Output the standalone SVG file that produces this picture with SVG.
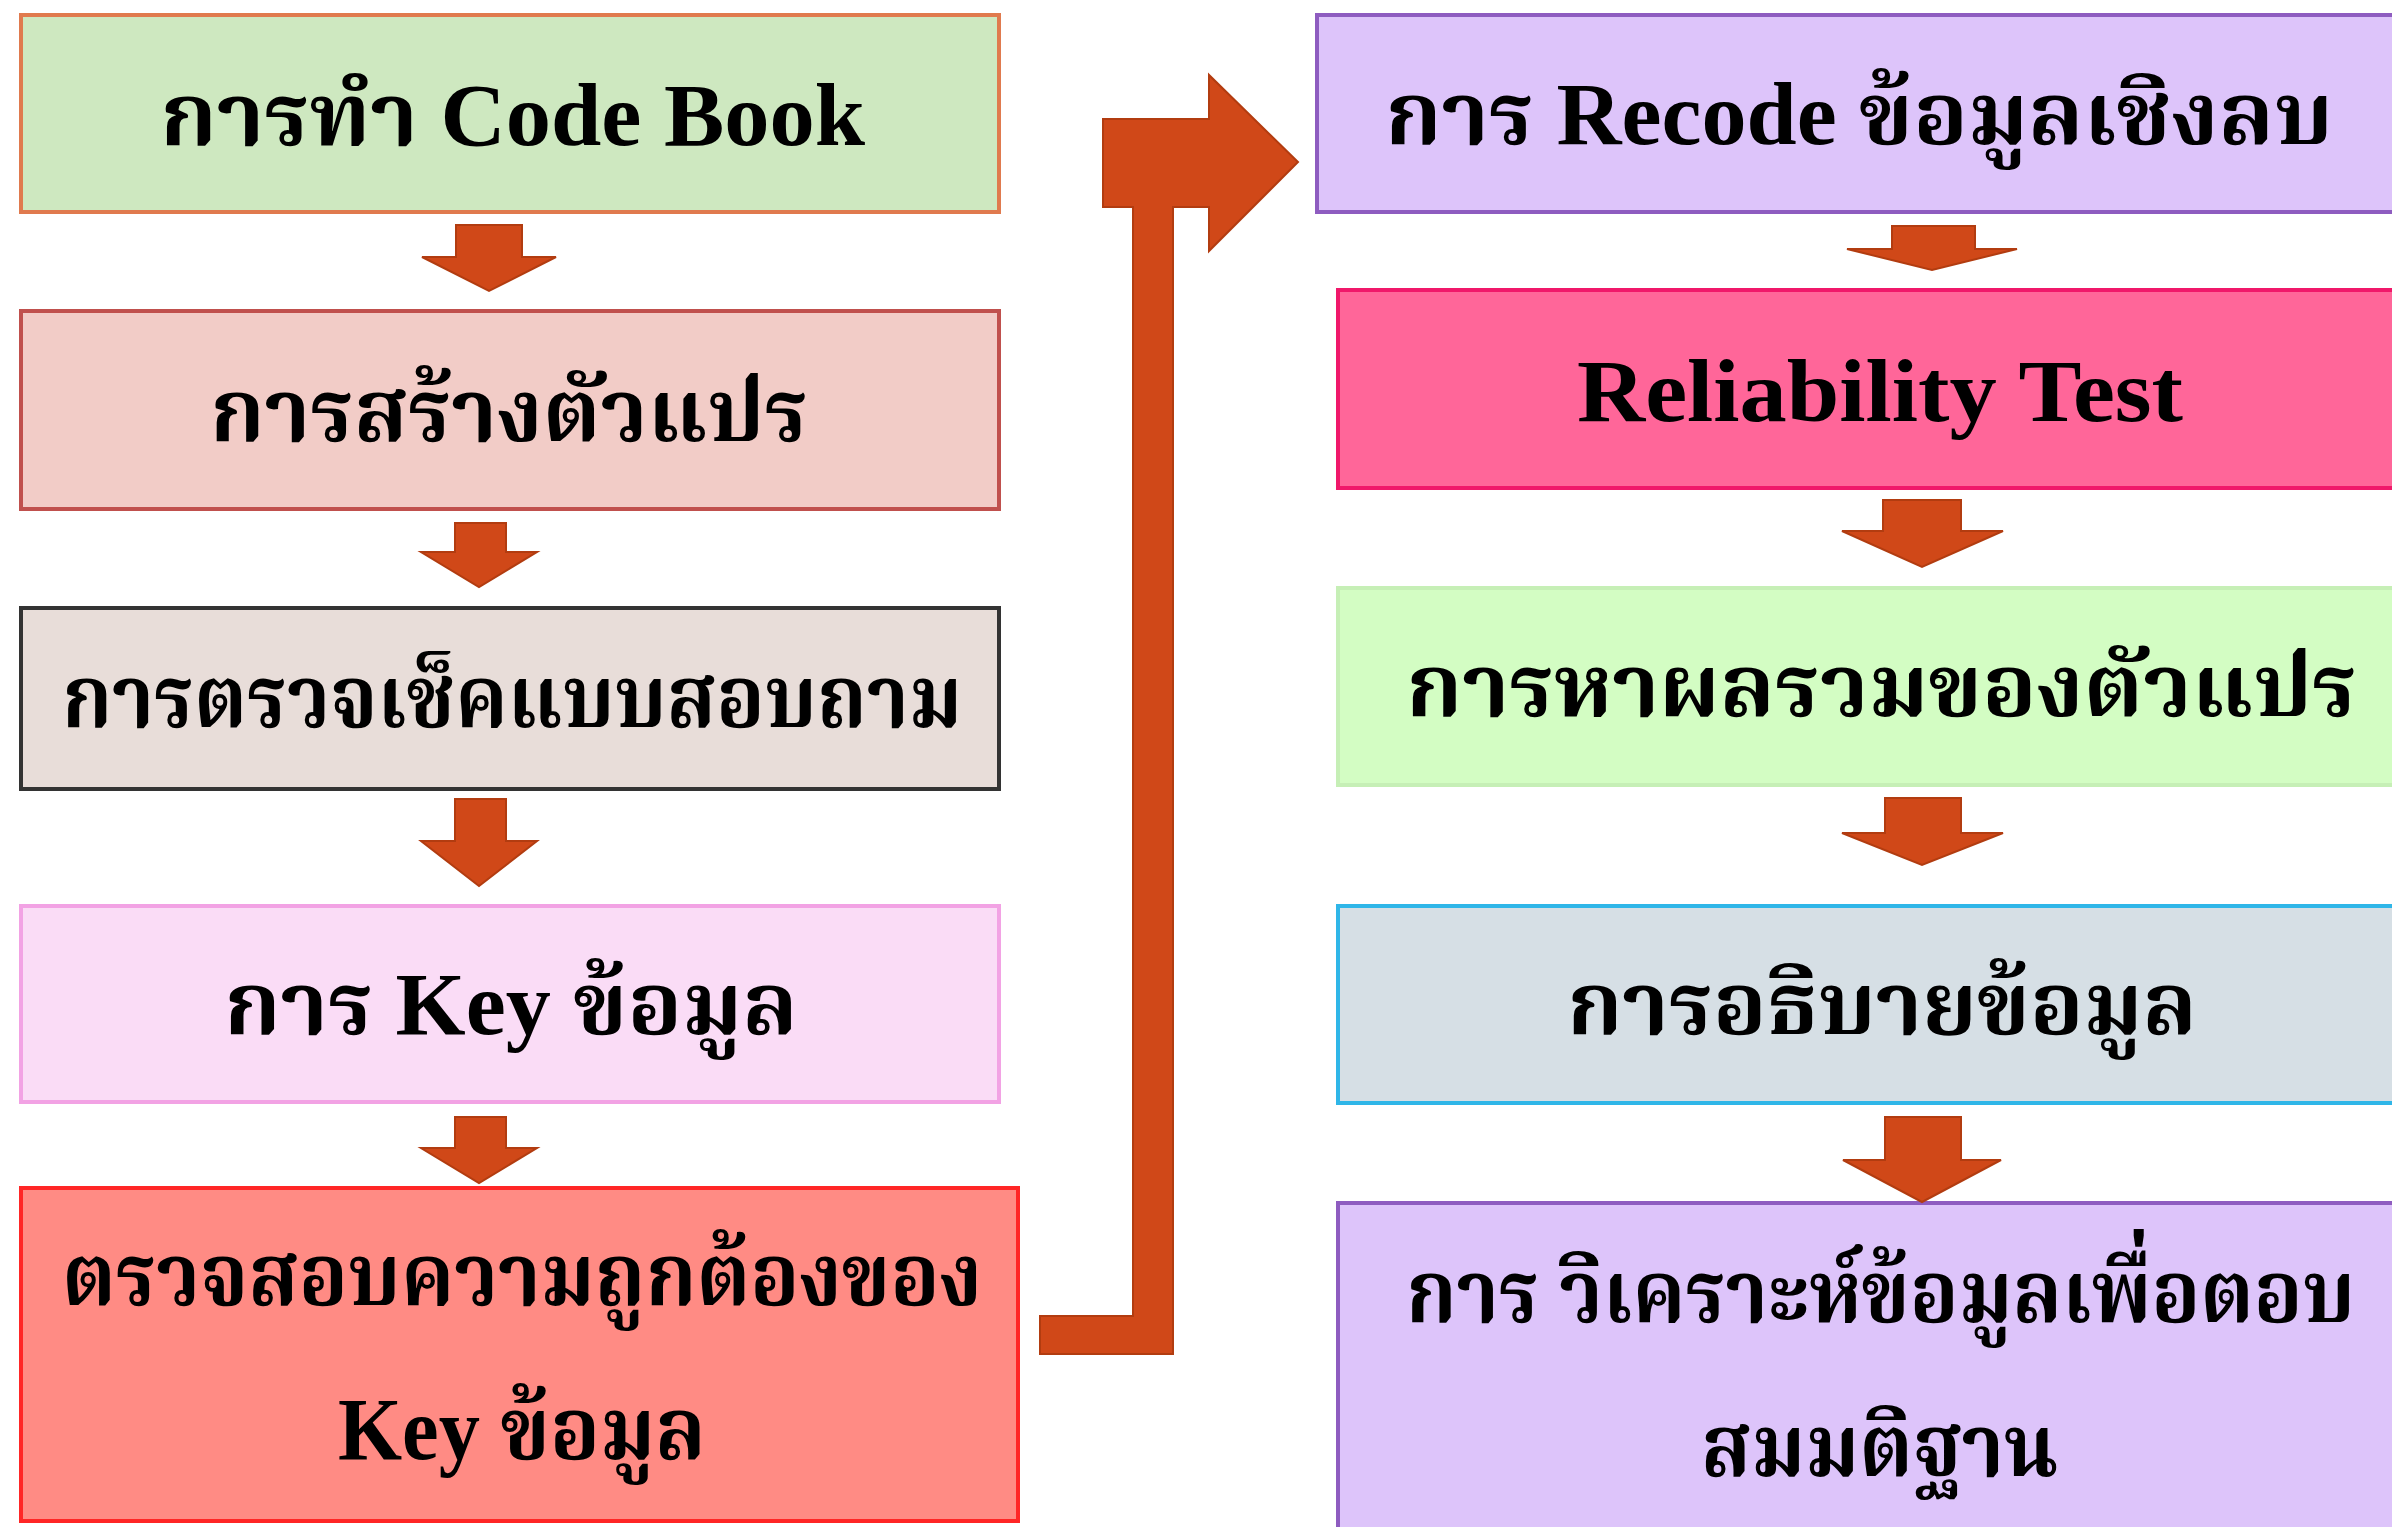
<svg xmlns="http://www.w3.org/2000/svg" width="2392" height="1527" viewBox="0 0 2392 1527">
<style>
.lbl{font-family:"Liberation Serif","Noto Serif Thai","Noto Sans Thai","Noto Sans",serif;font-weight:bold;font-size:88px;fill:#000;}
.box{stroke-width:4;}
.arr{fill:#D04818;stroke:#B23C10;stroke-width:2;stroke-linejoin:miter;}
</style>
<rect width="2392" height="1527" fill="#FFFFFF"/>
<g id="n1"><rect class="box" x="21" y="15" width="978" height="197" fill="#CEE8C0" stroke="#E07A4E"/>
<text class="lbl" x="160" y="145" textLength="705" lengthAdjust="spacingAndGlyphs">การทำ Code Book</text></g>
<g id="n2"><rect class="box" x="21" y="311" width="978" height="198" fill="#F2CCC7" stroke="#C0504D"/>
<text class="lbl" x="210" y="441" textLength="598" lengthAdjust="spacingAndGlyphs">การสร้างตัวแปร</text></g>
<g id="n3"><rect class="box" x="21" y="608" width="978" height="181" fill="#E8DDD9" stroke="#333333"/>
<text class="lbl" x="62" y="727" textLength="900" lengthAdjust="spacingAndGlyphs">การตรวจเช็คแบบสอบถาม</text></g>
<g id="n4"><rect class="box" x="21" y="906" width="978" height="196" fill="#FADCF6" stroke="#F2A2E4"/>
<text class="lbl" x="224" y="1034" textLength="574" lengthAdjust="spacingAndGlyphs">การ Key ข้อมูล</text></g>
<g id="n5"><rect class="box" x="21" y="1188" width="997" height="333" fill="#FF8B84" stroke="#FF2626"/>
<text class="lbl" x="62" y="1305" textLength="920" lengthAdjust="spacingAndGlyphs">ตรวจสอบความถูกต้องของ</text>
<text class="lbl" x="338" y="1459" textLength="368" lengthAdjust="spacingAndGlyphs">Key ข้อมูล</text></g>
<g id="r1"><rect class="box" x="1317" y="15" width="1090" height="197" fill="#DDC4FA" stroke="#8E5CC0"/>
<text class="lbl" x="1385" y="144" textLength="948" lengthAdjust="spacingAndGlyphs">การ Recode ข้อมูลเชิงลบ</text></g>
<g id="r2"><rect class="box" x="1338" y="290" width="1070" height="198" fill="#FF6699" stroke="#F0186A"/>
<text class="lbl" x="1577" y="421" textLength="606" lengthAdjust="spacingAndGlyphs">Reliability Test</text></g>
<g id="r3"><rect class="box" x="1338" y="588" width="1070" height="197" fill="#D3FDC3" stroke="#C6EFB6"/>
<text class="lbl" x="1406" y="716" textLength="951" lengthAdjust="spacingAndGlyphs">การหาผลรวมของตัวแปร</text></g>
<g id="r4"><rect class="box" x="1338" y="906" width="1070" height="197" fill="#D6DFE5" stroke="#2FB6E8"/>
<text class="lbl" x="1567" y="1034" textLength="630" lengthAdjust="spacingAndGlyphs">การอธิบายข้อมูล</text></g>
<g id="r5"><rect class="box" x="1338" y="1203" width="1070" height="340" fill="#DDC4FA" stroke="#8E5CC0"/>
<text class="lbl" x="1406" y="1322" textLength="949" lengthAdjust="spacingAndGlyphs">การ วิเคราะห์ข้อมูลเพื่อตอบ</text>
<text class="lbl" x="1701" y="1476" textLength="357" lengthAdjust="spacingAndGlyphs">สมมติฐาน</text></g>
<g id="connectors">
<polygon class="arr" points="456,225 522,225 522,257 556,257 489,291 422,257 456,257"/>
<polygon class="arr" points="455,523 506,523 506,552 537,552 479,587 421,552 455,552"/>
<polygon class="arr" points="455,799 506,799 506,841 537,841 479,886 421,841 455,841"/>
<polygon class="arr" points="455,1117 506,1117 506,1148 537,1148 479,1183 421,1148 455,1148"/>
<polygon class="arr" points="1892,226 1975,226 1975,249 2017,249 1932,270 1847,249 1892,249"/>
<polygon class="arr" points="1883,500 1961,500 1961,531 2003,531 1922,567 1842,531 1883,531"/>
<polygon class="arr" points="1885,798 1961,798 1961,833 2003,833 1922,865 1842,833 1885,833"/>
<polygon class="arr" points="1885,1117 1961,1117 1961,1160 2001,1160 1922,1202 1843,1160 1885,1160"/>
<polygon class="arr" points="1040,1316 1133,1316 1133,207 1103,207 1103,119 1209,119 1209,75 1298,162 1209,251 1209,207 1173,207 1173,1354 1040,1354"/>
</g>
</svg>
